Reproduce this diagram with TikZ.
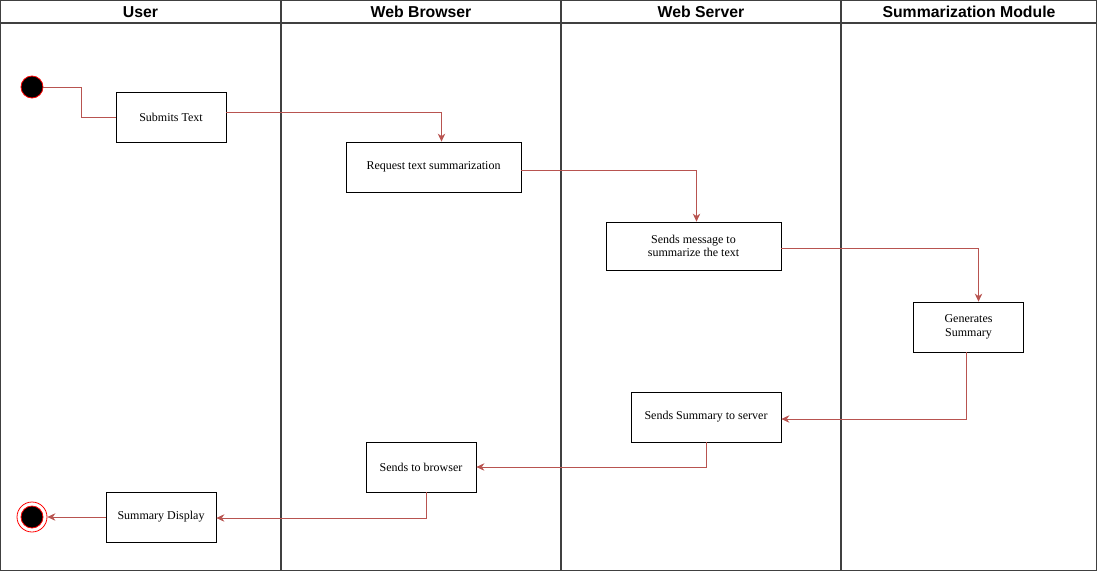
\documentclass[tikz,border=0pt]{standalone}
\usepackage{fontspec}
\setmainfont{Liberation Serif}
\newfontfamily\headfont{Liberation Sans}
\usetikzlibrary{arrows.meta}
\definecolor{flowred}{HTML}{B85450}
\definecolor{lanegray}{HTML}{404040}

\begin{document}
\begin{tikzpicture}[x=1pt,y=-1pt,
	lane/.style={draw=lanegray,line width=1.4pt},
	head/.style={font=\headfont\bfseries\fontsize{15.8}{17}\selectfont},
	act/.style={draw,thick,minimum width=110pt,minimum height=50pt,inner sep=2pt,align=center,font=\fontsize{12}{13.5}\selectfont},
	flow/.style={draw=flowred,thick,-{Stealth[length=8pt,width=7.5pt]}},
	initial/.style={circle,fill=black,draw=red,thick,minimum size=22pt,inner sep=0pt},
	final/.style={circle,draw=red,thick,minimum size=30pt,inner sep=0pt}]
	\useasboundingbox (0,0) rectangle (1097,571);

	% swimlanes
	\draw[lane] (0.7,0.7) rectangle (1096.3,570.3);
	\draw[lane] (0,23) -- (1097,23);
	\draw[lane] (281,0) -- (281,571);
	\draw[lane] (561,0) -- (561,571);
	\draw[lane] (841,0) -- (841,571);
	\node[head] (huser) at (140.5,12) {User};
	\node[head] (hbrowser) at (421,12) {Web Browser};
	\node[head] (hserver) at (701,12) {Web Server};
	\node[head] (hmodule) at (969,12) {Summarization Module};

	% start and end
	\node[initial] (start) at (32,87) {};
	\node[final] (stop) at (32,517) {};
	\draw[red,thick,fill=black] (stop.center) circle (11pt);

	% actions
	\node[act] (submit) at (171,117) {Submits Text};
	\node[act,minimum width=175pt] (request) at (433.5,167) {Request text summarization};
	\node[act,minimum width=175pt,minimum height=48pt] (message) at (693.5,246) {Sends message to\\summarize the text};
	\node[act] (generate) at (968.5,327) {Generates\\Summary};
	\node[act,minimum width=150pt] (toserver) at (706,417) {Sends Summary to server};
	\node[act] (tobrowser) at (421,467) {Sends to browser};
	\node[act] (display) at (161,517) {Summary Display};

	% flow
	\draw[draw=flowred,thick] (start.east) -- ++(38,0) |- (submit.west);
	\draw[flow] ([yshift=5pt]submit.east) -| ([xshift=8pt]request.north);
	\draw[flow] ([yshift=-3pt]request.east) -| ([xshift=3pt]message.north);
	\draw[flow] ([yshift=-2pt]message.east) -| ([xshift=10pt]generate.north);
	\draw[flow] ([xshift=-2pt]generate.south) |- ([yshift=-2pt]toserver.east);
	\draw[flow] (toserver.south) |- (tobrowser.east);
	\draw[flow] ([xshift=5pt]tobrowser.south) |- ([yshift=-1pt]display.east);
	\draw[flow] (display.west) -- (stop.east);

\end{tikzpicture}
\end{document}
